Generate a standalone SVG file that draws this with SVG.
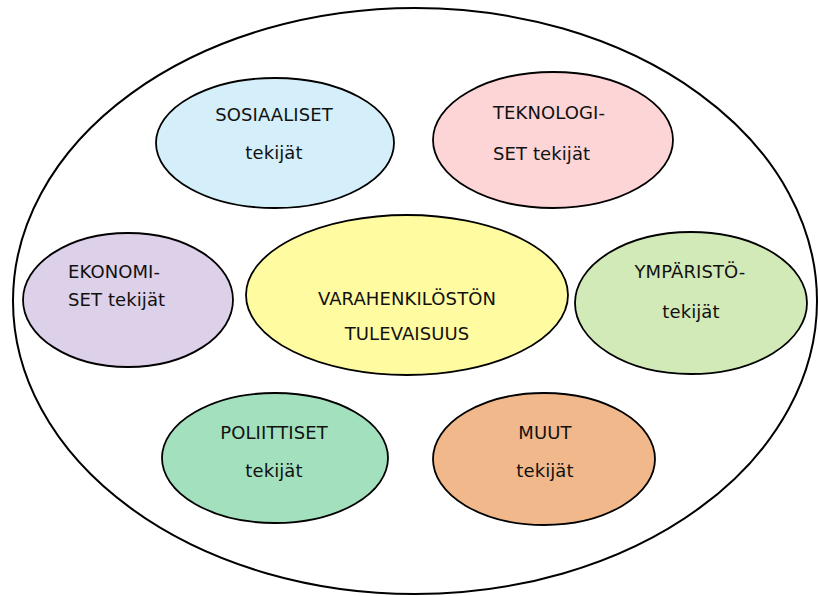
<svg xmlns="http://www.w3.org/2000/svg" width="818" height="596" viewBox="0 0 818 596">
<style>
.e{stroke:#000;stroke-width:1.8}
.t{font-family:"DejaVu Sans","Liberation Sans",sans-serif;font-size:18px;fill:#111;letter-spacing:0.1px}
.c{text-anchor:middle}
</style>
<rect width="818" height="596" fill="#fff"/>
<g id="outer"><ellipse cx="415" cy="301" rx="402" ry="293" fill="none" stroke="#000" stroke-width="2"/></g>
<g id="connectors"></g>
<g id="sosiaaliset">
<ellipse class="e" cx="275" cy="143" rx="119" ry="65" fill="#d4eff9"/>
<text class="t c" x="274" y="121">SOSIAALISET</text>
<text class="t c" x="274" y="159">tekijät</text>
</g>
<g id="teknologiset">
<ellipse class="e" cx="553" cy="140" rx="120" ry="68" fill="#fdd5d6"/>
<text class="t" x="493" y="119">TEKNOLOGI-</text>
<text class="t" x="493" y="160">SET tekijät</text>
</g>
<g id="ekonomiset">
<ellipse class="e" cx="128" cy="300" rx="105" ry="67" fill="#ddd0e9"/>
<text class="t" x="68" y="278">EKONOMI-</text>
<text class="t" x="68" y="306">SET tekijät</text>
</g>
<g id="tulevaisuus">
<ellipse class="e" cx="407" cy="295" rx="161" ry="80" fill="#fffba0"/>
<text class="t c" x="407" y="305">VARAHENKILÖSTÖN</text>
<text class="t c" x="407" y="340">TULEVAISUUS</text>
</g>
<g id="ymparisto">
<ellipse class="e" cx="691" cy="303" rx="116" ry="71" fill="#d2e9b8"/>
<text class="t c" x="690" y="278">YMPÄRISTÖ-</text>
<text class="t c" x="691" y="318">tekijät</text>
</g>
<g id="poliittiset">
<ellipse class="e" cx="275" cy="458" rx="113" ry="65" fill="#a3e0be"/>
<text class="t c" x="274" y="439">POLIITTISET</text>
<text class="t c" x="274" y="477">tekijät</text>
</g>
<g id="muut">
<ellipse class="e" cx="544" cy="459" rx="111" ry="66" fill="#f1b98b"/>
<text class="t c" x="545" y="439">MUUT</text>
<text class="t c" x="545" y="477">tekijät</text>
</g>
</svg>
